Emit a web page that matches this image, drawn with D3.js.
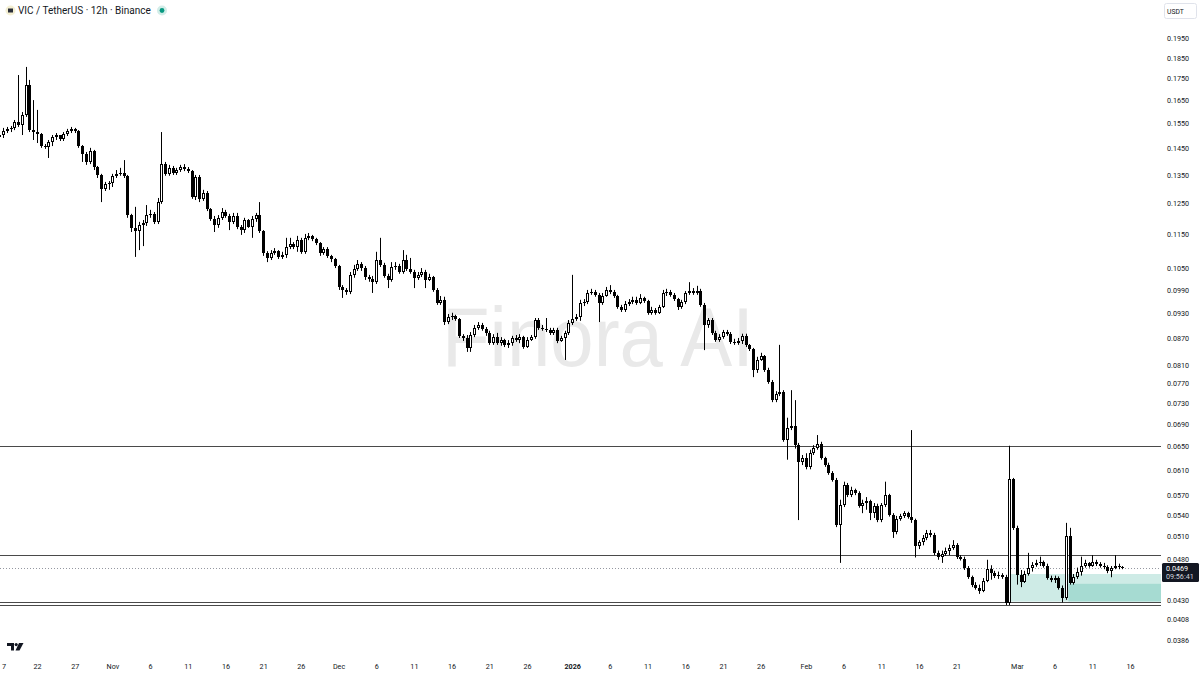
<!DOCTYPE html>
<html><head><meta charset="utf-8">
<script src="https://cdn.jsdelivr.net/npm/d3@7"></script>
<style>
html,body{margin:0;padding:0;background:#fff;}
svg{display:block;font-family:Roboto,"Noto Sans",sans-serif;}
</style>
</head><body>
<svg id="chart" width="1200" height="675"></svg>
<script>
// ---- data (12h candles, VIC/USDT, Binance) ----
const firstCandleUTC = Date.UTC(2025, 9, 16, 12); // 2025-10-16 12:00 UTC
const candleHours = 12;

const opens = [
.1531,.1494,.1502,.1518,.1527,.1531,.1556,.1543,.1585,.1719,
.1522,.1514,.1506,.1458,.1454,.1474,.1494,.1502,.1486,.1506,
.1518,.1527,.1518,.1458,.1427,.1397,.1439,.1378,.1349,.1299,
.1317,.1320,.1346,.1353,.1356,.1346,.1211,.1170,.1160,.1179,
.1186,.1211,.1215,.1189,.1254,.1390,.1353,.1375,.1356,.1367,
.1378,.1371,.1363,.1272,.1342,.1265,.1285,.1231,.1198,.1179,
.1202,.1221,.1208,.1189,.1208,.1173,.1163,.1195,.1173,.1198,
.1211,.1160,.1094,.1079,.1094,.1099,.1082,.1088,.1111,.1120,
.1111,.1132,.1097,.1139,.1145,.1136,.1123,.1094,.1105,.1085,
.1076,.1056,.0998,.0990,.0985,.1031,.1047,.1062,.1050,.1025,
.1020,.1012,.1073,.1059,.1028,.1017,.1053,.1056,.1039,.1073,
.1047,.1039,.1023,.1031,.1039,.1017,.1025,.0990,.0956,.0964,
.0908,.0920,.0923,.0916,.0875,.0870,.0847,.0877,.0894,.0901,
.0891,.0882,.0858,.0872,.0858,.0865,.0854,.0858,.0870,.0865,
.0872,.0849,.0865,.0872,.0913,.0894,.0891,.0889,.0882,.0889,
.0863,.0870,.0882,.0906,.0916,.0920,.0956,.0958,.0982,.0985,
.0977,.0956,.0974,.0990,.0985,.0974,.0946,.0938,.0953,.0958,
.0964,.0956,.0969,.0961,.0931,.0938,.0931,.0946,.0982,.0985,
.0977,.0966,.0946,.0958,.0982,.0987,.0982,.0987,.0951,.0901,
.0913,.0882,.0865,.0872,.0884,.0880,.0861,.0858,.0863,.0875,
.0854,.0845,.0798,.0820,.0829,.0798,.0773,.0736,.0748,.0752,
.0661,.0683,.0687,.0652,.0623,.0630,.0615,.0638,.0647,.0654,
.0630,.0618,.0605,.0594,.0526,.0555,.0586,.0570,.0578,.0573,
.0554,.0558,.0561,.0543,.0554,.0533,.0555,.0570,.0540,.0516,
.0535,.0539,.0543,.0537,.0533,.0497,.0503,.0508,.0515,.0512,
.0488,.0483,.0487,.0491,.0495,.0499,.0483,.0480,.0469,.0457,
.0448,.0444,.0440,.0453,.0467,.0462,.0459,.0460,.0457,.0426,
.0595,.0522,.0460,.0451,.0461,.0469,.0472,.0475,.0476,.0471,
.0456,.0454,.0456,.0444,.0432,.0511,.0450,.0457,.0464,.0471,
.0475,.0471,.0476,.0474,.0471,.0470,.0465,.0469,.0471,.0470];

const highs = [
.1556,.1518,.1531,.1535,.1539,.1564,.1765,.1598,.1804,.1742,
.1650,.1607,.1510,.1466,.1482,.1502,.1510,.1502,.1514,.1527,
.1535,.1531,.1522,.1462,.1435,.1451,.1443,.1382,.1353,.1324,
.1327,.1353,.1367,.1375,.1404,.1349,.1215,.1238,.1189,.1195,
.1244,.1228,.1221,.1268,.1514,.1397,.1386,.1382,.1375,.1386,
.1389,.1378,.1367,.1349,.1349,.1296,.1292,.1234,.1208,.1211,
.1234,.1228,.1215,.1218,.1218,.1179,.1202,.1198,.1208,.1218,
.1254,.1163,.1099,.1102,.1108,.1102,.1097,.1139,.1139,.1126,
.1145,.1139,.1151,.1154,.1148,.1139,.1126,.1111,.1111,.1088,
.1079,.1059,.1003,.0995,.1039,.1059,.1073,.1067,.1056,.1031,
.1028,.1097,.1139,.1065,.1034,.1067,.1067,.1062,.1102,.1088,
.1079,.1045,.1039,.1050,.1045,.1034,.1028,.0995,.0974,.0972,
.0928,.0931,.0926,.0918,.0879,.0877,.0884,.0901,.0908,.0906,
.0896,.0887,.0879,.0882,.0872,.0868,.0865,.0875,.0877,.0879,
.0875,.0872,.0877,.0918,.0918,.0901,.0918,.0894,.0894,.0894,
.0875,.0887,.0913,.1031,.0928,.0964,.0966,.0990,.0993,.0990,
.0982,.0982,.0998,.1003,.0990,.0977,.0951,.0961,.0966,.0972,
.0972,.0979,.0972,.0964,.0946,.0943,.0951,.0990,.0993,.0990,
.0982,.0969,.0964,.0987,.1011,.0995,.1001,.0993,.0956,.0918,
.0918,.0887,.0879,.0889,.0889,.0884,.0868,.0870,.0880,.0880,
.0856,.0847,.0827,.0836,.0831,.0803,.0777,.0754,.0854,.0756,
.0702,.0756,.0736,.0656,.0635,.0638,.0644,.0652,.0670,.0658,
.0632,.0622,.0608,.0597,.0563,.0591,.0589,.0583,.0580,.0576,
.0563,.0567,.0563,.0558,.0557,.0558,.0591,.0572,.0543,.0539,
.0542,.0546,.0545,.0679,.0535,.0505,.0512,.0519,.0519,.0515,
.0491,.0491,.0495,.0499,.0505,.0501,.0485,.0483,.0471,.0459,
.0451,.0448,.0456,.0479,.0472,.0465,.0464,.0462,.0460,.0651,
.0597,.0525,.0466,.0465,.0488,.0476,.0479,.0483,.0478,.0474,
.0459,.0459,.0458,.0447,.0529,.0522,.0461,.0469,.0483,.0479,
.0476,.0485,.0479,.0476,.0475,.0472,.0471,.0485,.0474,.0471];

const lows = [
.1443,.1462,.1490,.1510,.1514,.1522,.1535,.1502,.1577,.1514,
.1482,.1470,.1451,.1447,.1412,.1458,.1482,.1478,.1478,.1498,
.1510,.1510,.1451,.1397,.1386,.1389,.1367,.1338,.1254,.1292,
.1296,.1306,.1338,.1346,.1338,.1202,.1157,.1082,.1102,.1114,
.1176,.1202,.1182,.1182,.1248,.1346,.1346,.1349,.1349,.1360,
.1363,.1356,.1265,.1261,.1254,.1258,.1224,.1192,.1157,.1170,
.1195,.1202,.1163,.1182,.1166,.1148,.1154,.1170,.1139,.1189,
.1154,.1085,.1067,.1073,.1088,.1076,.1076,.1079,.1105,.1105,
.1097,.1091,.1091,.1132,.1129,.1117,.1085,.1088,.1079,.1067,
.1050,.0990,.0969,.0977,.0979,.1023,.1042,.1042,.1017,.1012,
.0982,.1006,.1053,.1023,.0995,.1012,.1045,.1034,.1034,.1042,
.1034,.0995,.1017,.1025,.0995,.1014,.0985,.0951,.0951,.0901,
.0903,.0913,.0911,.0870,.0863,.0838,.0838,.0872,.0889,.0887,
.0875,.0854,.0854,.0854,.0852,.0849,.0847,.0852,.0861,.0858,
.0845,.0847,.0863,.0868,.0889,.0887,.0884,.0877,.0877,.0858,
.0861,.0820,.0877,.0901,.0911,.0911,.0948,.0953,.0977,.0972,
.0908,.0951,.0972,.0979,.0969,.0941,.0933,.0933,.0948,.0953,
.0951,.0953,.0956,.0926,.0926,.0926,.0928,.0943,.0974,.0972,
.0961,.0938,.0941,.0953,.0977,.0977,.0977,.0946,.0842,.0894,
.0877,.0861,.0861,.0868,.0875,.0856,.0854,.0854,.0856,.0849,
.0840,.0783,.0792,.0818,.0794,.0769,.0732,.0732,.0744,.0658,
.0627,.0679,.0646,.0533,.0618,.0611,.0611,.0635,.0644,.0627,
.0615,.0602,.0591,.0523,.0475,.0552,.0567,.0567,.0570,.0551,
.0543,.0548,.0533,.0536,.0530,.0530,.0552,.0538,.0508,.0513,
.0532,.0536,.0535,.0529,.0482,.0493,.0498,.0505,.0509,.0485,
.0479,.0475,.0484,.0485,.0492,.0480,.0478,.0466,.0455,.0445,
.0442,.0437,.0439,.0451,.0454,.0456,.0455,.0455,.0424,.0424,
.0519,.0448,.0445,.0450,.0459,.0464,.0470,.0471,.0469,.0454,
.0451,.0450,.0442,.0427,.0430,.0448,.0448,.0455,.0459,.0469,
.0469,.0470,.0471,.0469,.0467,.0462,.0457,.0467,.0467,.0467];

const closes = [
.1494,.1502,.1518,.1527,.1531,.1556,.1543,.1585,.1719,.1522,
.1514,.1506,.1458,.1454,.1474,.1494,.1502,.1486,.1506,.1518,
.1527,.1518,.1458,.1427,.1397,.1439,.1378,.1349,.1299,.1317,
.1320,.1346,.1353,.1356,.1346,.1211,.1170,.1160,.1179,.1186,
.1211,.1215,.1189,.1254,.1390,.1353,.1375,.1356,.1367,.1378,
.1371,.1363,.1272,.1342,.1265,.1285,.1231,.1198,.1179,.1202,
.1221,.1208,.1189,.1208,.1173,.1163,.1195,.1173,.1198,.1211,
.1160,.1094,.1079,.1094,.1099,.1082,.1088,.1111,.1120,.1111,
.1132,.1097,.1139,.1145,.1136,.1123,.1094,.1105,.1085,.1076,
.1056,.0998,.0990,.0985,.1031,.1047,.1062,.1050,.1025,.1020,
.1012,.1073,.1059,.1028,.1017,.1053,.1056,.1039,.1073,.1047,
.1039,.1023,.1031,.1039,.1017,.1025,.0990,.0956,.0964,.0908,
.0920,.0923,.0916,.0875,.0870,.0847,.0877,.0894,.0901,.0891,
.0882,.0858,.0872,.0858,.0865,.0854,.0858,.0870,.0865,.0872,
.0849,.0865,.0872,.0913,.0894,.0891,.0889,.0882,.0889,.0863,
.0870,.0882,.0906,.0916,.0920,.0956,.0958,.0982,.0985,.0977,
.0956,.0974,.0990,.0985,.0974,.0946,.0938,.0953,.0958,.0964,
.0956,.0969,.0961,.0931,.0938,.0931,.0946,.0982,.0985,.0977,
.0966,.0946,.0958,.0982,.0987,.0982,.0987,.0951,.0901,.0913,
.0882,.0865,.0872,.0884,.0880,.0861,.0858,.0863,.0875,.0854,
.0845,.0798,.0820,.0829,.0798,.0773,.0736,.0748,.0752,.0661,
.0683,.0687,.0652,.0623,.0630,.0615,.0638,.0647,.0654,.0630,
.0618,.0605,.0594,.0526,.0555,.0586,.0570,.0578,.0573,.0554,
.0558,.0561,.0543,.0554,.0533,.0555,.0570,.0540,.0516,.0535,
.0539,.0543,.0537,.0533,.0497,.0503,.0508,.0515,.0512,.0488,
.0483,.0487,.0491,.0495,.0499,.0483,.0480,.0469,.0457,.0448,
.0444,.0440,.0453,.0467,.0462,.0459,.0460,.0457,.0426,.0595,
.0522,.0460,.0451,.0461,.0469,.0472,.0475,.0476,.0471,.0456,
.0454,.0456,.0444,.0432,.0511,.0450,.0457,.0464,.0471,.0475,
.0471,.0476,.0474,.0471,.0470,.0465,.0469,.0471,.0470,.0469];

const priceTicks = [0.1950,0.1850,0.1750,0.1650,0.1550,0.1450,0.1350,0.1250,0.1150,0.1050,
  0.0990,0.0930,0.0870,0.0810,0.0770,0.0730,0.0690,0.0650,0.0610,0.0570,0.0540,0.0510,
  0.0480,0.0430,0.0408,0.0386];

// first label is the visible tail of "17" at the left edge in the reference
const timeTickDates = ["2025-10-17","2025-10-22","2025-10-27","2025-11-01","2025-11-06","2025-11-11",
  "2025-11-16","2025-11-21","2025-11-26","2025-12-01","2025-12-06","2025-12-11","2025-12-16",
  "2025-12-21","2025-12-26","2026-01-01","2026-01-06","2026-01-11","2026-01-16","2026-01-21",
  "2026-01-26","2026-02-01","2026-02-06","2026-02-11","2026-02-16","2026-02-21","2026-03-01",
  "2026-03-06","2026-03-11","2026-03-16"];
const timeTickLabels = ["7","22","27","Nov","6","11","16","21","26","Dec","6","11","16","21","26",
  "2026","6","11","16","21","26","Feb","6","11","16","21","Mar","6","11","16"];

const levelPrices = [0.0650, 0.0485, 0.0428, 0.0424];
const lastPrice = 0.0469;
const countdownText = "09:56:41";
const zoneStarts = ["2026-02-28T00:00:00Z", "2026-03-07T20:00:00Z"];
const zoneTops = [0.0461, 0.0449];
const zoneBottoms = [0.0428, 0.0428];
const titleText = "VIC / TetherUS · 12h · Binance";
const currencyText = "USDT";
const watermarkText = "Finora AI";

// ---- chart ----
const W = 1200, H = 675, plotRight = 1161, plotBottom = 657;
const svg = d3.select("#chart");

const x = d3.scaleUtc()
  .domain([new Date(Date.UTC(2025, 9, 22)), new Date(Date.UTC(2026, 2, 16))])
  .range([37, 1130]);
const y = d3.scaleLog().domain([0.0386, 0.195]).range([640, 38]);

const candles = closes.map((c, i) => ({
  t: new Date(firstCandleUTC + i * candleHours * 3600 * 1000),
  o: opens[i], h: highs[i], l: lows[i], c: c
}));

svg.append("rect").attr("width", W).attr("height", H).attr("fill", "#ffffff");

svg.append("defs").append("clipPath").attr("id", "plotClip")
  .append("rect").attr("x", 0).attr("y", 0).attr("width", plotRight).attr("height", plotBottom);

const plot = svg.append("g").attr("clip-path", "url(#plotClip)");

// watermark
plot.append("text")
  .attr("x", 598).attr("y", 366)
  .attr("text-anchor", "middle")
  .attr("font-family", "'Liberation Sans', Arial, sans-serif")
  .attr("font-size", 84)
  .attr("textLength", 312).attr("lengthAdjust", "spacingAndGlyphs")
  .attr("fill", "#e9e9e9")
  .text(watermarkText);

// zones
zoneStarts.forEach((s, k) => {
  const x0 = x(new Date(s));
  plot.append("rect")
    .attr("x", x0).attr("y", y(zoneTops[k]))
    .attr("width", plotRight - x0)
    .attr("height", y(zoneBottoms[k]) - y(zoneTops[k]))
    .attr("fill", "#089981").attr("fill-opacity", 0.2);
});

// level lines
plot.selectAll("line.level").data(levelPrices).join("line")
  .attr("class", "level")
  .attr("x1", 0).attr("x2", plotRight)
  .attr("y1", d => Math.round(y(d)) + 0.5).attr("y2", d => Math.round(y(d)) + 0.5)
  .attr("stroke", "#4a4a4a").attr("stroke-width", 1);

// last price dotted line
plot.append("line")
  .attr("x1", 0).attr("x2", plotRight)
  .attr("y1", Math.round(y(lastPrice)) + 0.5).attr("y2", Math.round(y(lastPrice)) + 0.5)
  .attr("stroke", "#9598a1").attr("stroke-width", 1).attr("stroke-dasharray", "1,2");

// candles
const cg = plot.append("g");
const cx = d => Math.round(x(d.t));
cg.selectAll("line.wick").data(candles).join("line")
  .attr("class", "wick")
  .attr("x1", d => cx(d) + 0.5).attr("x2", d => cx(d) + 0.5)
  .attr("y1", d => y(Math.max(d.h, d.o, d.c)))
  .attr("y2", d => y(Math.min(d.l, d.o, d.c)))
  .attr("stroke", "#000").attr("stroke-width", 1);

cg.selectAll("rect.body").data(candles).join("rect")
  .attr("class", "body")
  .each(function(d) {
    const top = Math.round(y(Math.max(d.o, d.c)));
    const bot = Math.round(y(Math.min(d.o, d.c)));
    const sel = d3.select(this);
    if (d.c >= d.o) {
      sel.attr("x", cx(d) - 1 + 0.5).attr("y", top + 0.5)
        .attr("width", 2).attr("height", Math.max(0, bot - top - 1) || 0.01)
        .attr("fill", "#fff").attr("stroke", "#000").attr("stroke-width", 1);
    } else {
      sel.attr("x", cx(d) - 1).attr("y", top)
        .attr("width", 3).attr("height", Math.max(1, bot - top))
        .attr("fill", "#000");
    }
  });

// price axis
const yAxis = d3.axisRight(y).tickValues(priceTicks).tickFormat(d3.format(".4f")).tickSize(0).tickPadding(0);
const ya = svg.append("g").attr("transform", "translate(1167,0)").call(yAxis);
ya.select(".domain").remove();
ya.selectAll("text").attr("font-size", 7.2).attr("fill", "#131722")
  .attr("font-family", "Roboto, sans-serif").attr("dy", "0.35em");

// time axis
const tickDates = timeTickDates.map(s => new Date(s + "T00:00:00Z"));
const xAxis = d3.axisBottom(x).tickValues(tickDates)
  .tickFormat((d, i) => timeTickLabels[i]).tickSize(0).tickPadding(0);
const xa = svg.append("g").attr("transform", "translate(0,664)").call(xAxis);
xa.select(".domain").remove();
xa.selectAll("text").attr("font-size", 7.2).attr("fill", "#131722")
  .attr("font-family", "Roboto, sans-serif")
  .attr("font-weight", (d, i) => timeTickLabels[i] === "2026" ? "bold" : "normal")
  .attr("text-anchor", (d, i) => x(d) < 4 ? "start" : "middle")
  .attr("dx", (d, i) => x(d) < 4 ? 1.5 - x(d) : 0);

// last price label
const ly = y(lastPrice);
svg.append("rect").attr("x", 1162).attr("y", Math.round(ly) - 5).attr("width", 37).attr("height", 19)
  .attr("rx", 1.5).attr("fill", "#131722");
svg.append("text").attr("x", 1166).attr("y", Math.round(ly) + 2.5)
  .attr("font-size", 7.2).attr("fill", "#ffffff").text(d3.format(".4f")(lastPrice));
svg.append("text").attr("x", 1166).attr("y", Math.round(ly) + 11)
  .attr("font-size", 7.2).attr("fill", "#d1d4dc").text(countdownText);

// currency button
svg.append("rect").attr("x", 1164.5).attr("y", 3.5).attr("width", 32).attr("height", 15)
  .attr("rx", 2).attr("fill", "#fff").attr("stroke", "#e0e3eb");
svg.append("text").attr("x", 1167).attr("y", 13.5).attr("font-size", 6.8)
  .attr("fill", "#131722").text(currencyText);

// title
svg.append("circle").attr("cx", 10.5).attr("cy", 10.5).attr("r", 5).attr("fill", "#f4efd2");
svg.append("rect").attr("x", 8).attr("y", 8.5).attr("width", 5).attr("height", 4).attr("fill", "#2a2e39");
svg.append("text").attr("x", 18).attr("y", 14).attr("font-size", 10)
  .attr("fill", "#131722").text(titleText);
svg.append("circle").attr("cx", 162).attr("cy", 10.5).attr("r", 5).attr("fill", "#089981").attr("fill-opacity", 0.18);
svg.append("circle").attr("cx", 162).attr("cy", 10.5).attr("r", 2.4).attr("fill", "#089981");

// TradingView logo
const logo = svg.append("g").attr("transform", "translate(7,643)").attr("fill", "#131722");
logo.append("path").attr("d", "M0,0 H7 V7.5 H4 V3 H0 Z");
logo.append("circle").attr("cx", 9.2).attr("cy", 1.6).attr("r", 1.6);
logo.append("path").attr("d", "M12,0 H16.5 L12.5,7.5 H8.5 Z");
</script>
</body></html>
